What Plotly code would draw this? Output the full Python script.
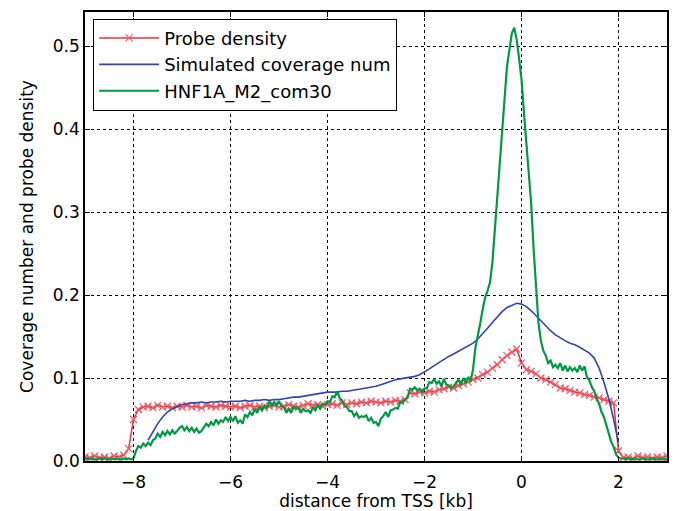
import numpy as np
import plotly.graph_objects as go

# ---------------- data ----------------
# Probe density: x from -9.0 to 3.0, step 0.1 kb
probe_x = np.round(np.arange(-9.0, 3.0001, 0.1), 2)
probe_density = [
    0.005, 0.004, 0.006, 0.004, 0.005, 0.003, 0.006, 0.005, 0.007,
    0.015, 0.050, 0.062,
    0.065, 0.066, 0.064, 0.067, 0.065, 0.066, 0.064, 0.066, 0.065,
    0.067, 0.065, 0.066, 0.064, 0.067, 0.066, 0.065, 0.067, 0.066, 0.065,
    0.066, 0.064, 0.066, 0.067, 0.065, 0.066, 0.064, 0.066, 0.067, 0.065,
    0.066, 0.068, 0.066, 0.065, 0.067, 0.069, 0.067, 0.068, 0.066, 0.068,
    0.069, 0.067, 0.070, 0.068, 0.070, 0.069, 0.071, 0.070, 0.072, 0.071,
    0.070, 0.072, 0.071, 0.073, 0.072, 0.074, 0.082, 0.081, 0.083, 0.082,
    0.084, 0.083, 0.086, 0.087, 0.089, 0.088, 0.091, 0.093, 0.095, 0.098,
    0.100, 0.104, 0.107, 0.112, 0.116, 0.122, 0.127, 0.131, 0.135,
    0.118, 0.110, 0.108, 0.105, 0.100, 0.098, 0.095, 0.092, 0.088, 0.087,
    0.085, 0.083, 0.082, 0.080, 0.079, 0.077, 0.076, 0.074, 0.072, 0.070,
    0.012, 0.004, 0.005, 0.003, 0.006, 0.004, 0.005, 0.003, 0.005, 0.004, 0.006,
]

# Simulated coverage number: x from -7.7 to 2.0, step 0.1 kb
sim_x = np.round(np.arange(-7.7, 2.0001, 0.1), 2)
sim_coverage = [
    0.025, 0.035, 0.045, 0.053, 0.059, 0.063, 0.066, 0.068, 0.069, 0.070,
    0.070, 0.071, 0.070, 0.071, 0.071, 0.072, 0.071, 0.072,
    0.072, 0.072, 0.073, 0.072, 0.073, 0.073, 0.074, 0.073, 0.074, 0.074,
    0.075, 0.076, 0.077, 0.077, 0.078, 0.079, 0.080, 0.081, 0.082, 0.083,
    0.083, 0.083, 0.084, 0.084, 0.085, 0.086, 0.087, 0.088, 0.089, 0.090,
    0.092, 0.094, 0.096, 0.098, 0.099, 0.100, 0.101, 0.102, 0.104, 0.107,
    0.111, 0.115, 0.119, 0.123, 0.126, 0.129, 0.132, 0.135, 0.138, 0.142,
    0.147, 0.153, 0.160, 0.167, 0.174, 0.180, 0.185, 0.188, 0.190, 0.189,
    0.186, 0.181, 0.175, 0.168, 0.162, 0.157, 0.152, 0.148, 0.145, 0.142,
    0.140, 0.137, 0.134, 0.130, 0.124, 0.112, 0.095, 0.075, 0.050, 0.022,
]

# HNF1A_M2_com30: x from -9.0 to 3.0, step 0.05 kb
hnf_x = np.round(np.arange(-9.0, 3.0001, 0.05), 2)
hnf1a = [
    0.002, 0.003, 0.002, 0.003, 0.002, 0.002, 0.003, 0.002, 0.003, 0.002,
    0.002, 0.003, 0.002, 0.003, 0.002, 0.002, 0.003, 0.002, 0.003, 0.002,
    0.003, 0.012, 0.018, 0.016, 0.021, 0.018, 0.022, 0.019, 0.025, 0.027,
    0.033, 0.029, 0.035, 0.031, 0.036, 0.032, 0.037, 0.033, 0.036, 0.040,
    0.042, 0.037, 0.041, 0.036, 0.040, 0.035, 0.039, 0.034, 0.036, 0.040,
    0.045, 0.042, 0.047, 0.043, 0.050, 0.045, 0.049, 0.047, 0.053, 0.048,
    0.053, 0.048, 0.054, 0.046, 0.049, 0.045, 0.056, 0.053, 0.059, 0.055,
    0.063, 0.058, 0.065, 0.061, 0.067, 0.064, 0.072, 0.066, 0.071, 0.067,
    0.072, 0.066, 0.065, 0.058, 0.063, 0.058, 0.065, 0.063, 0.064, 0.058,
    0.063, 0.060, 0.061, 0.058, 0.065, 0.061, 0.067, 0.063, 0.069, 0.068,
    0.072, 0.071, 0.078, 0.077, 0.084, 0.076, 0.073, 0.066, 0.065, 0.060,
    0.060, 0.054, 0.058, 0.052, 0.054, 0.053, 0.055, 0.048, 0.052, 0.046,
    0.047, 0.042, 0.051, 0.054, 0.059, 0.053, 0.061, 0.062, 0.064, 0.063,
    0.071, 0.070, 0.074, 0.076, 0.087, 0.086, 0.089, 0.085, 0.087, 0.083,
    0.087, 0.088, 0.095, 0.094, 0.099, 0.093, 0.096, 0.090, 0.099, 0.092,
    0.091, 0.088, 0.090, 0.094, 0.098, 0.092, 0.100, 0.094, 0.101, 0.096,
    0.110, 0.137, 0.150, 0.166, 0.183, 0.197, 0.205, 0.215, 0.239, 0.280,
    0.318, 0.360, 0.395, 0.440, 0.475, 0.495, 0.515, 0.522, 0.508, 0.485,
    0.460, 0.420, 0.385, 0.350, 0.310, 0.255, 0.205, 0.166, 0.145, 0.133,
    0.127, 0.118, 0.121, 0.113, 0.116, 0.112, 0.118, 0.109, 0.115, 0.108,
    0.113, 0.109, 0.112, 0.107, 0.115, 0.109, 0.114, 0.101, 0.097, 0.089,
    0.084, 0.075, 0.069, 0.059, 0.053, 0.042, 0.034, 0.023, 0.017, 0.008,
    0.004, 0.003, 0.003, 0.002, 0.003, 0.002, 0.002, 0.003, 0.002, 0.002,
    0.003, 0.002, 0.002, 0.002, 0.003, 0.002, 0.002, 0.003, 0.002, 0.002,
    0.002,
]

x_tickvals = [-8, -6, -4, -2, 0, 2]
x_ticktext = ["\u22128", "\u22126", "\u22124", "\u22122", "0", "2"]
y_tickvals = [0.0, 0.1, 0.2, 0.3, 0.4, 0.5]

# ---------------- figure ----------------
FONT = "DejaVu Sans"
fig = go.Figure()
fig.add_trace(go.Scatter(
    x=probe_x, y=probe_density, name="Probe density", mode="lines+markers",
    line=dict(color="#f0303c", width=1.5),
    marker=dict(symbol="x-thin", size=7, line=dict(color="#f25560", width=1.2)),
))
fig.add_trace(go.Scatter(
    x=sim_x, y=sim_coverage, name="Simulated coverage num", mode="lines",
    line=dict(color="#3344aa", width=1.6),
))
fig.add_trace(go.Scatter(
    x=hnf_x, y=hnf1a, name="HNF1A_M2_com30", mode="lines",
    line=dict(color="#009944", width=2.2),
))

axis_common = dict(
    showline=True, linecolor="black", linewidth=1.6, mirror="allticks",
    ticks="inside", ticklen=5, tickcolor="black",
    showgrid=True, gridcolor="black", griddash="dot", gridwidth=1,
    zeroline=False, automargin=False,
    tickfont=dict(family=FONT, size=17, color="black"),
)
fig.update_xaxes(
    range=[-9, 3], tickvals=x_tickvals, ticktext=x_ticktext, ticklabelstandoff=5,
    title=dict(text="distance from TSS [kb]", font=dict(family=FONT, size=17, color="black"), standoff=8),
    **axis_common,
)
fig.update_yaxes(
    range=[0, 0.541], tickvals=y_tickvals, tickformat=".1f",
    title=dict(text="Coverage number and probe density", font=dict(family=FONT, size=17, color="black"), standoff=15),
    **axis_common,
)
fig.update_layout(
    width=676, height=511,
    margin=dict(l=85, r=9, t=12, b=50),
    plot_bgcolor="white", paper_bgcolor="white",
    font=dict(family=FONT, size=17, color="black"),
    legend=dict(
        x=0.014, y=0.985, xanchor="left", yanchor="top",
        bgcolor="white", bordercolor="black", borderwidth=1,
        font=dict(family=FONT, size=18, color="black"),
        itemwidth=60, tracegroupgap=0,
    ),
    showlegend=True,
)

fig.write_html("out.html")
